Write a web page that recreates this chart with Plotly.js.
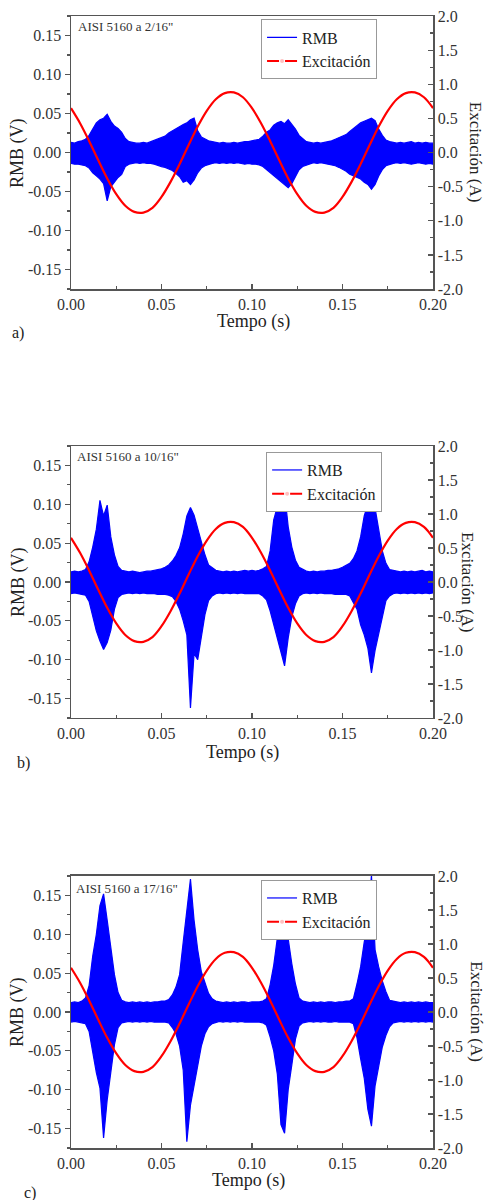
<!DOCTYPE html>
<html><head><meta charset="utf-8">
<script src="https://cdn.plot.ly/plotly-3.0.1.min.js"></script>
<style>html,body{margin:0;padding:0;background:#fff}</style>
</head><body><div id="chart" style="width:487px;height:1200px"></div>
<script>
// time samples (s) for the RMB envelope readings
const time = [0,0.002,0.004,0.006,0.008,0.010,0.012,0.014,0.016,0.018,
0.020,0.022,0.024,0.026,0.028,0.030,0.032,0.034,0.036,0.038,
0.040,0.042,0.044,0.046,0.048,0.050,0.052,0.054,0.056,0.058,
0.060,0.062,0.064,0.066,0.068,0.070,0.072,0.074,0.076,0.078,
0.080,0.082,0.084,0.086,0.088,0.090,0.092,0.094,0.096,0.098,
0.100,0.102,0.104,0.106,0.108,0.110,0.112,0.114,0.116,0.118,
0.120,0.122,0.124,0.126,0.128,0.130,0.132,0.134,0.136,0.138,
0.140,0.142,0.144,0.146,0.148,0.150,0.152,0.154,0.156,0.158,
0.160,0.162,0.164,0.166,0.168,0.170,0.172,0.174,0.176,0.178,
0.180,0.182,0.184,0.186,0.188,0.190,0.192,0.194,0.196,0.198,
0.200];

// a) 2/16"
const rmbUpperA = [0.013,0.012,0.014,0.015,0.017,0.022,0.030,0.038,0.042,0.044,
0.049,0.040,0.034,0.031,0.026,0.018,0.014,0.013,0.012,0.012,
0.013,0.012,0.014,0.016,0.017,0.019,0.021,0.025,0.028,0.031,
0.034,0.036,0.038,0.042,0.044,0.028,0.020,0.017,0.015,0.014,
0.013,0.012,0.013,0.012,0.012,0.013,0.012,0.013,0.014,0.014,
0.015,0.016,0.017,0.021,0.026,0.029,0.035,0.038,0.040,0.037,
0.042,0.036,0.030,0.022,0.018,0.014,0.013,0.012,0.013,0.012,
0.013,0.014,0.015,0.017,0.019,0.021,0.023,0.027,0.031,0.034,
0.038,0.040,0.042,0.044,0.041,0.030,0.022,0.016,0.014,0.013,
0.012,0.013,0.012,0.013,0.014,0.012,0.013,0.012,0.013,0.012,
0.012];
const rmbLowerA = [-0.014,-0.015,-0.015,-0.016,-0.017,-0.020,-0.026,-0.030,-0.034,-0.040,
-0.062,-0.044,-0.038,-0.032,-0.028,-0.018,-0.015,-0.014,-0.013,-0.014,
-0.013,-0.014,-0.014,-0.015,-0.017,-0.018,-0.019,-0.021,-0.023,-0.027,
-0.031,-0.038,-0.036,-0.041,-0.035,-0.026,-0.020,-0.017,-0.015,-0.014,
-0.013,-0.014,-0.013,-0.014,-0.013,-0.014,-0.013,-0.014,-0.015,-0.014,
-0.015,-0.015,-0.016,-0.018,-0.022,-0.026,-0.030,-0.034,-0.037,-0.041,
-0.045,-0.040,-0.030,-0.022,-0.018,-0.016,-0.014,-0.013,-0.014,-0.013,
-0.014,-0.015,-0.016,-0.017,-0.019,-0.021,-0.024,-0.028,-0.030,-0.032,
-0.034,-0.038,-0.041,-0.047,-0.041,-0.030,-0.022,-0.017,-0.015,-0.014,
-0.013,-0.014,-0.013,-0.014,-0.015,-0.014,-0.013,-0.014,-0.015,-0.014,
-0.015];

// b) 10/16"
const rmbUpperB = [0.013,0.014,0.013,0.014,0.016,0.026,0.045,0.068,0.105,0.085,
0.099,0.058,0.035,0.020,0.015,0.014,0.013,0.014,0.013,0.012,
0.013,0.014,0.014,0.015,0.016,0.017,0.019,0.022,0.027,0.034,
0.044,0.062,0.085,0.096,0.086,0.068,0.050,0.035,0.022,0.018,
0.015,0.014,0.013,0.014,0.013,0.014,0.013,0.014,0.015,0.014,
0.015,0.014,0.015,0.017,0.020,0.040,0.080,0.097,0.090,0.115,
0.071,0.045,0.028,0.019,0.016,0.014,0.013,0.014,0.013,0.014,
0.014,0.015,0.015,0.016,0.017,0.019,0.021,0.024,0.030,0.040,
0.058,0.085,0.100,0.112,0.095,0.068,0.040,0.024,0.016,0.015,
0.014,0.013,0.014,0.013,0.014,0.013,0.014,0.015,0.013,0.014,
0.013];
const rmbLowerB = [-0.015,-0.014,-0.015,-0.016,-0.017,-0.025,-0.045,-0.063,-0.076,-0.087,
-0.078,-0.062,-0.035,-0.020,-0.016,-0.015,-0.014,-0.015,-0.014,-0.015,
-0.014,-0.015,-0.015,-0.015,-0.016,-0.016,-0.016,-0.017,-0.019,-0.025,
-0.035,-0.050,-0.068,-0.162,-0.092,-0.100,-0.072,-0.042,-0.024,-0.018,
-0.015,-0.014,-0.015,-0.014,-0.015,-0.014,-0.015,-0.014,-0.015,-0.015,
-0.015,-0.015,-0.015,-0.018,-0.023,-0.037,-0.055,-0.072,-0.090,-0.108,
-0.072,-0.045,-0.028,-0.018,-0.015,-0.014,-0.015,-0.014,-0.015,-0.014,
-0.015,-0.015,-0.015,-0.016,-0.016,-0.016,-0.016,-0.018,-0.026,-0.035,
-0.055,-0.068,-0.085,-0.117,-0.088,-0.066,-0.042,-0.024,-0.018,-0.015,
-0.014,-0.015,-0.014,-0.015,-0.014,-0.015,-0.014,-0.015,-0.014,-0.015,
-0.014];

// c) 17/16"
const rmbUpperC = [0.012,0.013,0.012,0.014,0.018,0.034,0.072,0.100,0.137,0.152,
0.118,0.085,0.048,0.025,0.015,0.013,0.012,0.013,0.012,0.013,
0.012,0.013,0.012,0.013,0.013,0.014,0.014,0.016,0.022,0.032,
0.048,0.090,0.134,0.171,0.118,0.080,0.052,0.038,0.024,0.017,
0.014,0.013,0.012,0.013,0.012,0.013,0.012,0.013,0.013,0.012,
0.013,0.013,0.013,0.014,0.017,0.035,0.060,0.095,0.124,0.140,
0.094,0.062,0.036,0.018,0.014,0.013,0.012,0.013,0.012,0.013,
0.012,0.013,0.013,0.012,0.013,0.013,0.014,0.014,0.017,0.036,
0.058,0.090,0.115,0.176,0.080,0.058,0.040,0.026,0.015,0.014,
0.013,0.012,0.013,0.012,0.013,0.012,0.013,0.012,0.013,0.012,
0.012];
const rmbLowerC = [-0.013,-0.012,-0.013,-0.014,-0.015,-0.025,-0.052,-0.078,-0.098,-0.162,
-0.113,-0.078,-0.042,-0.020,-0.014,-0.013,-0.012,-0.013,-0.012,-0.013,
-0.012,-0.013,-0.012,-0.013,-0.013,-0.013,-0.013,-0.014,-0.020,-0.028,
-0.044,-0.075,-0.167,-0.120,-0.094,-0.066,-0.044,-0.028,-0.019,-0.015,
-0.013,-0.012,-0.013,-0.012,-0.013,-0.012,-0.013,-0.012,-0.013,-0.013,
-0.013,-0.013,-0.013,-0.014,-0.017,-0.032,-0.050,-0.080,-0.145,-0.156,
-0.100,-0.068,-0.035,-0.018,-0.014,-0.013,-0.012,-0.013,-0.012,-0.013,
-0.012,-0.013,-0.013,-0.012,-0.013,-0.013,-0.013,-0.013,-0.015,-0.033,
-0.060,-0.085,-0.125,-0.147,-0.095,-0.068,-0.045,-0.030,-0.019,-0.014,
-0.013,-0.012,-0.013,-0.012,-0.013,-0.012,-0.013,-0.012,-0.013,-0.012,
-0.013];

// excitation current (A)
const excTime = [0,0.005,0.010,0.015,0.020,0.025,0.030,0.035,0.040,0.045,
0.050,0.055,0.060,0.065,0.070,0.075,0.080,0.085,0.090,0.095,
0.100,0.105,0.110,0.115,0.120,0.125,0.130,0.135,0.140,0.145,
0.150,0.155,0.160,0.165,0.170,0.175,0.180,0.185,0.190,0.195,0.200];
const excitation = [0.65,0.43,0.17,-0.11,-0.38,-0.61,-0.78,-0.87,-0.88,-0.81,
-0.65,-0.43,-0.17,0.11,0.38,0.61,0.78,0.87,0.88,0.81,
0.65,0.43,0.17,-0.11,-0.38,-0.61,-0.78,-0.87,-0.88,-0.81,
-0.65,-0.43,-0.17,0.11,0.38,0.61,0.78,0.87,0.88,0.81,0.65];

const panelLabels = ['a)','b)','c)'];
const sampleLabels = ['AISI 5160 a 2/16"','AISI 5160 a 10/16"','AISI 5160 a 17/16"'];
const xTickVals = [0,0.05,0.10,0.15,0.20];
const xTickText = ['0.00','0.05','0.10','0.15','0.20'];
const yTickVals = [-0.15,-0.10,-0.05,0,0.05,0.10,0.15];
const yTickText = ['-0.15','-0.10','-0.05','0.00','0.05','0.10','0.15'];
const y2TickVals = [-2,-1.5,-1,-0.5,0,0.5,1,1.5,2];
const y2TickText = ['-2.0','-1.5','-1.0','-0.5','0.0','0.5','1.0','1.5','2.0'];
const seriesNames = ['RMB','Excitación'];
const xTitle = 'Tempo (s)', yTitle = 'RMB (V)', y2Title = 'Excitación (A)';

const uppers = [rmbUpperA, rmbUpperB, rmbUpperC];
const lowers = [rmbLowerA, rmbLowerB, rmbLowerC];

const FONT = "'Liberation Serif', 'Times New Roman', Times, serif";
const BLUE = '#0000ff', RED = '#ff0000', AX = '#555555';
const domains = [[0.7588,1],[0.3799,0.6201],[0,0.2403]];
const legendPos = [[0.525,0.997],[0.539,0.6148],[0.525,0.2367]];
const sampleLabelPos = [[0.0138,0.9905],[0.011,0.6107],[0.0083,0.2294]];
const panelLabelPos = [[-0.1685,0.720],[-0.1547,0.3401],[-0.1354,-0.0398]];
const xTitlePos = [[0.503,0.7297],[0.475,0.3496],[0.490,-0.0289]];
const yTitleX = [-0.1478,-0.1464,-0.1464];
const y2TitleX = [1.118,1.0967,1.118];

const traces = [];
const layout = {
  width:487, height:1200,
  margin:{l:71,r:54,t:16,b:52},
  paper_bgcolor:'#fff', plot_bgcolor:'#fff',
  font:{family:FONT, color:'#222', size:16},
  showlegend:true,
  annotations:[]
};

for (let p=0;p<3;p++){
  const xa = p===0?'x':'x'+(p+1);
  const yl = 'y'+(p===0?'':(2*p+1));
  const yr = 'y'+(2*p+2);
  const lg = p===0?'legend':'legend'+(p+1);
  const xKey = p===0?'xaxis':'xaxis'+(p+1);
  const ylKey = p===0?'yaxis':'yaxis'+(2*p+1);
  const yrKey = 'yaxis'+(2*p+2);

  traces.push({x:time, y:uppers[p], xaxis:xa, yaxis:yl, type:'scatter', mode:'lines',
    name:seriesNames[0], legend:lg, showlegend:true,
    line:{color:BLUE, width:1.2}, hoverinfo:'skip'});
  traces.push({x:time, y:lowers[p], xaxis:xa, yaxis:yl, type:'scatter', mode:'lines',
    name:seriesNames[0], legend:lg, showlegend:false, fill:'tonexty', fillcolor:BLUE,
    line:{color:BLUE, width:1.2}, hoverinfo:'skip'});
  traces.push({x:excTime, y:excitation, xaxis:xa, yaxis:yr, type:'scatter', mode:'lines',
    name:seriesNames[1], legend:lg, showlegend:false,
    line:{color:RED, width:2.2, shape:'spline', smoothing:1}, hoverinfo:'skip'});
  traces.push({x:[null], y:[null], xaxis:xa, yaxis:yr, type:'scatter', mode:'lines+markers',
    name:seriesNames[1], legend:lg, showlegend:true,
    line:{color:RED, width:2, dash:'12px,6px'},
    marker:{symbol:'circle', size:4, color:'#ffc0c0', line:{width:0}}});

  layout[xKey] = {domain:[0,1], anchor:yl, range:[0,0.2], showgrid:false, zeroline:false,
    showline:true, linecolor:AX, linewidth:1.5, mirror:true,
    tickmode:'array', tickvals:xTickVals, ticktext:xTickText,
    ticks:'inside', ticklen:5, tickcolor:AX, tickwidth:1.2,
    minor:{tickmode:'linear', tick0:0, dtick:0.025, ticks:'inside', ticklen:3, tickcolor:AX},
    tickfont:{family:FONT, size:16, color:'#333'}};
  layout[ylKey] = {domain:domains[p], anchor:xa, range:[-0.175,0.175], showgrid:false, zeroline:false,
    showline:true, linecolor:AX, linewidth:1.5,
    tickmode:'array', tickvals:yTickVals, ticktext:yTickText,
    ticks:'outside', ticklen:5, tickcolor:AX, tickwidth:1.2,
    minor:{tickmode:'linear', tick0:0, dtick:0.025, ticks:'outside', ticklen:3, tickcolor:AX},
    tickfont:{family:FONT, size:16, color:'#333'}};
  layout[yrKey] = {overlaying:yl, side:'right', anchor:xa, range:[-2,2], showgrid:false, zeroline:false,
    showline:true, linecolor:AX, linewidth:1.5,
    tickmode:'array', tickvals:y2TickVals, ticktext:y2TickText,
    ticks:'inside', ticklen:5, tickcolor:AX, tickwidth:1.2,
    minor:{tickmode:'linear', tick0:0, dtick:0.25, ticks:'inside', ticklen:3, tickcolor:AX},
    tickfont:{family:FONT, size:16, color:'#333'}};
  layout[lg] = {x:legendPos[p][0], y:legendPos[p][1], xref:'paper', yref:'paper',
    xanchor:'left', yanchor:'top', bgcolor:'#fff', bordercolor:'#999', borderwidth:1,
    traceorder:'normal',
    font:{family:FONT, size:16, color:'#222'}, tracegroupgap:0};

  layout.annotations.push(
    {text:sampleLabels[p], xref:'paper', yref:'paper', x:sampleLabelPos[p][0], y:sampleLabelPos[p][1],
     xanchor:'left', yanchor:'middle', showarrow:false, font:{family:FONT, size:13, color:'#333'}},
    {text:panelLabels[p], xref:'paper', yref:'paper', x:panelLabelPos[p][0], y:panelLabelPos[p][1],
     xanchor:'left', yanchor:'middle', showarrow:false, font:{family:FONT, size:16, color:'#222'}},
    {text:xTitle, xref:'paper', yref:'paper', x:xTitlePos[p][0], y:xTitlePos[p][1],
     xanchor:'center', yanchor:'middle', showarrow:false, font:{family:FONT, size:18, color:'#222'}},
    {text:yTitle, xref:'paper', yref:'paper', x:yTitleX[p], y:(domains[p][0]+domains[p][1])/2,
     xanchor:'center', yanchor:'middle', textangle:-90, showarrow:false, font:{family:FONT, size:18, color:'#222'}},
    {text:y2Title, xref:'paper', yref:'paper', x:y2TitleX[p], y:(domains[p][0]+domains[p][1])/2,
     xanchor:'center', yanchor:'middle', textangle:90, showarrow:false, font:{family:FONT, size:17, color:'#222'}}
  );
}

Plotly.newPlot('chart', traces, layout, {staticPlot:true, displayModeBar:false});
</script></body></html>
